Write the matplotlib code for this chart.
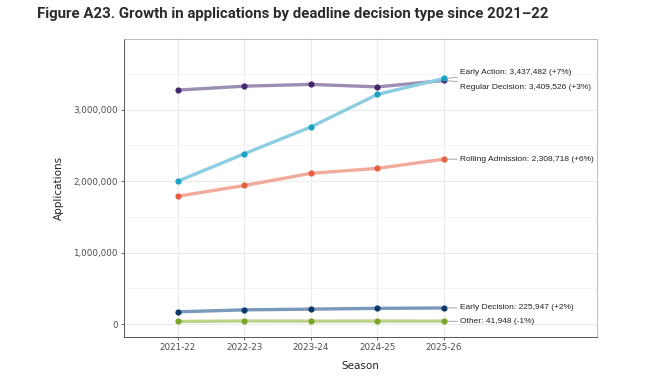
import matplotlib.pyplot as plt
from matplotlib.ticker import FuncFormatter, MultipleLocator

# -----------------------------------
# Data
# -----------------------------------
seasons = ["2021-22", "2022-23", "2023-24", "2024-25", "2025-26"]

regular_decision = [3275000, 3330000, 3355000, 3320000, 3409526]
early_action = [2000000, 2385000, 2760000, 3215000, 3437482]
rolling_admission = [1790000, 1940000, 2110000, 2180000, 2308718]
early_decision = [172000, 200000, 210000, 221000, 225947]
other = [38000, 44000, 42000, 42500, 41948]

labels = [
    "Early Action: 3,437,482 (+7%)",
    "Regular Decision: 3,409,526 (+3%)",
    "Rolling Admission: 2,308,718 (+6%)",
    "Early Decision: 225,947 (+2%)",
    "Other: 41,948 (-1%)",
]

# order: series, line colour, point colour, label, label y offset (data units)
series = [
    (regular_decision, "#9c8db2", "#45256b", labels[1], -95000),
    (early_action, "#8dcde2", "#1aa2c4", labels[0], 85000),
    (rolling_admission, "#f1ab9b", "#e5603e", labels[2], 0),
    (early_decision, "#7b99bb", "#0c3a69", labels[3], 12000),
    (other, "#bcd38a", "#7aa52a", labels[4], -12000),
]

fig = plt.figure(figsize=(6.7, 3.77), dpi=100)
ax = fig.add_axes([124 / 670, 40 / 377, 473 / 670, 298 / 377])

x = list(range(len(seasons)))
for vals, lc, pc, lab, dy in series:
    ax.plot(x, vals, color=lc, linewidth=2.4, solid_capstyle="round", zorder=3)
    ax.scatter(x, vals, s=20, color=pc, zorder=4, linewidths=0)
    ax.annotate(
        lab,
        xy=(x[-1], vals[-1]),
        xytext=(x[-1] + 0.24, vals[-1] + dy),
        fontsize=6.0,
        family=["Liberation Sans", "DejaVu Sans"],
        color="#222222",
        va="center",
        ha="left",
        arrowprops=dict(arrowstyle="-", color="#999999", linewidth=0.6,
                        shrinkA=0, shrinkB=2),
        zorder=5,
    )

ax.set_xlim(-0.81, 6.3)
ax.set_ylim(-180000, 3990000)
ax.set_xticks(x)
ax.set_xticklabels(seasons)
ax.yaxis.set_major_locator(MultipleLocator(1000000))
ax.yaxis.set_minor_locator(MultipleLocator(500000))
ax.yaxis.set_major_formatter(FuncFormatter(lambda v, p: f"{int(v):,}"))

ax.grid(True, which="major", color="#ebebeb", linewidth=0.8, zorder=0)
ax.grid(True, which="minor", axis="y", color="#f3f3f3", linewidth=0.6, zorder=0)
ax.tick_params(axis="both", labelsize=6.3, colors="#4d4d4d", length=2.5,
               width=0.6, pad=2)
ax.tick_params(which="minor", length=0)

for side in ["top", "right"]:
    ax.spines[side].set_color("#b0b0b0")
    ax.spines[side].set_linewidth(0.6)
for side in ["left", "bottom"]:
    ax.spines[side].set_color("#555555")
    ax.spines[side].set_linewidth(0.7)

ax.set_ylabel("Applications", fontsize=7.5, color="#222222")
ax.set_xlabel("Season", fontsize=7.5, color="#222222")
ax.yaxis.set_label_coords(-0.127, 0.5)
ax.xaxis.set_label_coords(0.5, -0.08)

fig.text(37 / 670, 1 - 14 / 377,
         "Figure A23. Growth in applications by deadline decision type since 2021\u201322",
         fontsize=10.8, fontweight="bold", family="Roboto", color="#2b2b2b",
         va="center", ha="left")

fig.savefig("out.png", dpi=100)
